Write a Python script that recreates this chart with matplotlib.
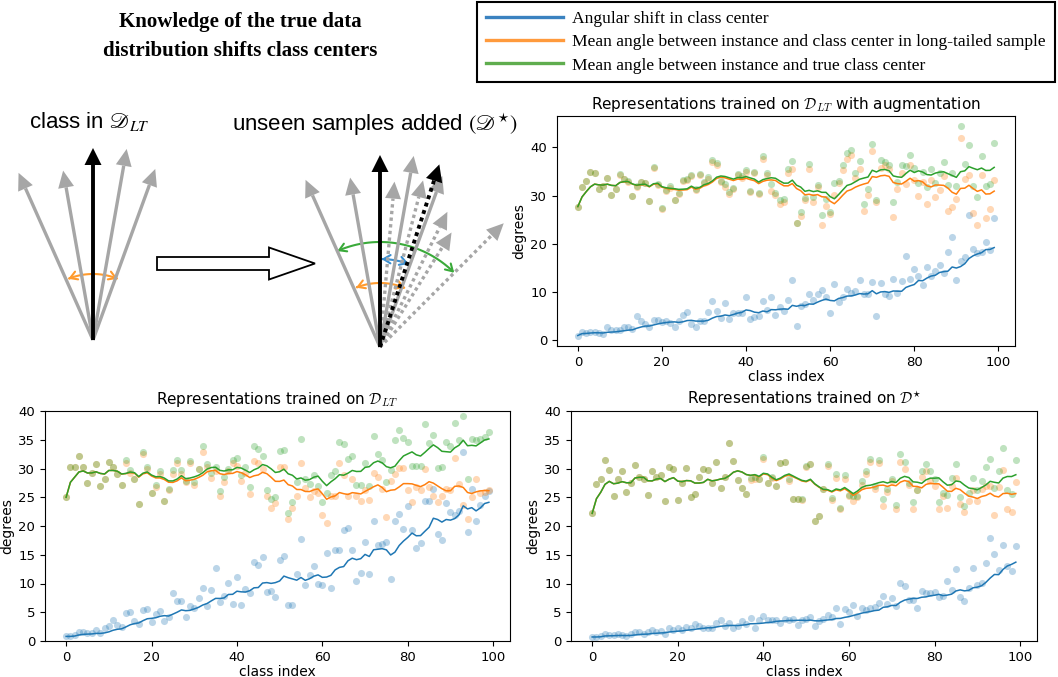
import matplotlib
matplotlib.use("Agg")
import matplotlib.pyplot as plt
import numpy as np
import pandas as pd
from matplotlib.lines import Line2D
from matplotlib.patches import Polygon, FancyArrow, FancyArrowPatch
from matplotlib.path import Path

# ── data (class index 0..99) ─────────────────────────────────────
CLASS_IDX = list(range(100))

AUG_SHIFT = [1.0, 1.8, 1.5, 1.8, 1.8, 1.5, 1.3, 2.7, 2.1, 2.2,
             2.2, 2.8, 2.8, 2.4, 5.1, 4.0, 3.3, 2.8, 4.3, 4.3,
             3.9, 4.1, 3.7, 2.8, 4.0, 5.3, 5.8, 3.3, 2.8, 4.1,
             4.0, 5.8, 8.2, 6.1, 4.7, 7.8, 4.4, 5.7, 5.7, 5.6,
             9.0, 4.5, 4.9, 5.0, 8.2, 6.2, 8.9, 5.3, 7.0, 6.1,
             8.4, 12.5, 3.0, 7.1, 7.6, 9.5, 8.4, 9.6, 10.5, 8.9,
             5.6, 11.6, 8.0, 8.9, 10.7, 9.9, 10.3, 12.5, 9.5, 9.5,
             12.0, 5.1, 11.9, 9.6, 9.1, 12.8, 9.9, 12.3, 17.4, 12.8,
             14.8, 13.4, 11.4, 15.1, 13.3, 14.4, 15.7, 14.0, 18.4, 21.5,
             12.6, 16.4, 17.3, 25.9, 19.0, 18.1, 18.4, 20.4, 18.7, 25.4]
AUG_LT = [27.7, 31.7, 33.0, 34.8, 34.6, 31.4, 31.9, 33.7, 30.1, 31.4,
          34.3, 33.4, 32.9, 29.9, 31.8, 32.8, 32.5, 28.8, 35.6, 32.2,
          27.3, 31.0, 31.6, 29.0, 30.3, 33.1, 33.2, 34.1, 31.2, 34.2,
          32.5, 33.5, 36.9, 36.4, 32.8, 31.8, 30.4, 31.3, 34.2, 33.6,
          34.8, 30.7, 34.6, 30.4, 37.5, 34.2, 31.0, 30.1, 28.2, 28.6,
          34.7, 35.4, 24.4, 25.8, 29.0, 35.4, 28.6, 31.8, 23.8, 27.8,
          26.2, 30.2, 32.5, 35.3, 37.6, 38.4, 33.7, 35.4, 26.7, 30.1,
          39.3, 28.7, 35.6, 36.3, 35.5, 25.6, 31.4, 34.6, 32.3, 36.4,
          33.2, 30.0, 32.9, 28.2, 33.2, 29.6, 31.2, 34.0, 26.7, 27.7,
          29.3, 41.9, 33.4, 34.2, 26.4, 23.8, 34.3, 25.3, 27.2, 33.3]
AUG_TRUE = [27.7, 31.7, 33.0, 34.8, 34.6, 31.4, 31.9, 33.7, 30.1, 31.4,
            34.4, 33.5, 33.0, 29.9, 32.0, 32.9, 32.6, 28.8, 35.9, 32.3,
            27.4, 31.2, 31.9, 29.1, 30.6, 33.3, 33.4, 34.3, 31.3, 34.4,
            32.8, 33.8, 37.3, 36.7, 33.1, 32.3, 30.7, 31.6, 34.5, 34.0,
            35.2, 31.0, 34.8, 30.6, 38.2, 34.6, 32.3, 30.5, 29.0, 29.3,
            35.4, 37.1, 24.4, 26.6, 29.5, 36.6, 29.7, 32.1, 25.9, 29.2,
            26.6, 32.6, 33.0, 36.3, 38.8, 39.4, 34.7, 37.2, 28.3, 31.4,
            40.6, 29.1, 37.4, 37.0, 36.3, 28.6, 32.7, 36.3, 36.1, 38.3,
            35.8, 32.6, 34.9, 31.7, 35.4, 32.6, 34.7, 37.0, 32.2, 34.6,
            31.9, 44.3, 36.6, 40.5, 32.0, 29.6, 38.2, 32.0, 32.4, 40.8]

LT_SHIFT = [0.8, 0.8, 1.0, 1.6, 1.6, 1.4, 1.4, 1.9, 1.4, 2.2,
            2.6, 3.6, 2.7, 2.4, 4.9, 5.1, 3.5, 3.0, 5.4, 5.5,
            3.3, 4.7, 5.2, 3.5, 4.2, 8.4, 6.9, 6.9, 4.1, 6.1,
            5.8, 7.4, 9.3, 6.1, 8.8, 12.7, 6.8, 7.8, 10.1, 6.4,
            11.2, 6.3, 9.0, 8.4, 13.8, 13.2, 14.6, 8.6, 8.7, 7.7,
            14.1, 14.8, 6.2, 6.3, 11.6, 17.8, 9.7, 11.4, 13.1, 10.0,
            9.8, 15.3, 9.2, 15.8, 15.9, 19.3, 19.7, 15.9, 10.5, 11.8,
            17.2, 11.7, 20.9, 16.7, 16.9, 17.2, 10.8, 20.8, 22.1, 19.5,
            23.5, 19.3, 16.2, 17.0, 24.3, 24.3, 26.5, 18.6, 17.6, 24.0,
            22.4, 22.0, 22.6, 32.8, 18.9, 26.5, 20.9, 23.7, 25.3, 26.1]
LT_LT = [25.0, 30.2, 30.3, 32.1, 30.3, 27.4, 29.3, 30.8, 26.9, 28.1,
         31.2, 30.2, 29.0, 27.2, 31.0, 29.3, 28.2, 23.9, 32.6, 29.9,
         25.7, 26.8, 29.0, 24.4, 26.3, 29.0, 31.0, 29.0, 27.6, 30.9,
         27.2, 29.9, 32.9, 30.3, 28.3, 29.5, 25.3, 27.6, 29.5, 31.0,
         30.4, 27.9, 29.3, 25.5, 31.3, 31.0, 29.9, 25.2, 23.2, 24.0,
         30.3, 30.2, 21.3, 23.2, 25.2, 30.9, 26.6, 25.0, 26.1, 25.7,
         21.9, 20.6, 25.2, 25.2, 31.0, 28.9, 25.2, 28.2, 25.2, 24.4,
         26.2, 24.6, 29.3, 28.5, 26.5, 21.6, 27.8, 29.0, 30.1, 30.1,
         26.2, 24.2, 26.7, 26.3, 29.9, 26.8, 25.3, 24.1, 25.3, 26.4,
         26.3, 31.9, 27.3, 23.7, 21.2, 25.0, 28.2, 25.8, 25.9, 26.2]
LT_TRUE = [25.0, 30.2, 30.3, 32.1, 30.3, 27.4, 29.3, 30.8, 26.9, 28.1,
           31.2, 30.2, 29.0, 27.2, 31.4, 29.8, 28.2, 23.9, 32.9, 30.3,
           25.7, 27.2, 29.5, 24.4, 26.5, 29.8, 31.5, 29.7, 27.8, 31.3,
           27.7, 29.9, 34.0, 30.8, 29.2, 30.3, 26.1, 28.5, 29.9, 31.4,
           31.8, 28.8, 30.3, 26.7, 34.0, 33.4, 32.1, 26.3, 24.7, 25.0,
           33.1, 33.3, 22.2, 24.1, 27.6, 35.2, 28.2, 27.3, 28.9, 26.9,
           24.1, 25.7, 28.8, 29.5, 34.6, 34.3, 31.7, 32.1, 27.1, 27.1,
           31.0, 27.0, 35.6, 32.5, 31.5, 27.6, 29.7, 34.9, 36.7, 35.3,
           34.6, 30.5, 30.5, 30.4, 37.8, 34.5, 35.9, 30.1, 30.3, 34.6,
           33.9, 37.9, 35.0, 39.2, 28.2, 35.2, 34.9, 35.2, 35.5, 36.4]

FULL_SHIFT = [0.7, 0.7, 0.8, 1.3, 1.0, 1.0, 1.2, 1.0, 0.8, 1.2,
              1.5, 1.6, 1.2, 1.5, 2.0, 1.5, 1.7, 1.3, 2.2, 1.9,
              2.2, 2.0, 2.4, 2.2, 2.9, 2.6, 2.3, 2.3, 2.2, 3.2,
              3.6, 2.6, 3.2, 2.2, 2.6, 3.4, 3.0, 4.0, 2.3, 3.6,
              4.3, 3.6, 3.7, 3.7, 3.1, 3.8, 3.6, 3.9, 2.7, 3.7,
              3.9, 4.2, 2.6, 3.5, 3.9, 4.6, 4.2, 5.8, 2.9, 5.5,
              5.1, 6.3, 4.4, 5.8, 5.4, 5.8, 5.9, 6.6, 7.8, 6.4,
              7.5, 6.1, 10.1, 9.5, 7.1, 7.1, 5.8, 8.7, 8.4, 8.3,
              8.5, 7.7, 7.8, 10.4, 8.8, 12.6, 7.7, 7.0, 9.3, 12.7,
              9.7, 10.1, 13.6, 17.9, 15.1, 12.3, 16.7, 13.0, 12.2, 16.5]
FULL_LT = [22.2, 27.3, 28.1, 31.4, 29.8, 25.3, 28.1, 29.5, 26.0, 27.4,
           30.6, 28.5, 28.1, 25.4, 29.5, 28.6, 28.9, 24.3, 30.2, 30.0,
           24.6, 27.4, 30.1, 25.0, 25.6, 28.6, 30.0, 29.7, 27.5, 31.2,
           26.6, 28.6, 34.4, 31.3, 28.0, 26.6, 25.6, 28.0, 28.1, 28.2,
           31.7, 27.4, 28.3, 27.0, 31.0, 31.2, 27.8, 24.7, 24.7, 24.5,
           30.3, 30.8, 20.8, 21.7, 26.5, 30.5, 24.6, 28.4, 23.0, 28.2,
           25.2, 24.4, 25.0, 27.2, 29.0, 31.2, 26.5, 30.9, 23.5, 25.9,
           27.8, 23.0, 31.2, 30.0, 27.2, 23.0, 26.2, 28.5, 29.5, 27.9,
           26.9, 23.0, 25.2, 23.1, 26.9, 28.4, 23.8, 22.4, 24.3, 26.3,
           24.4, 26.5, 27.0, 27.0, 22.0, 26.8, 29.7, 23.0, 22.4, 27.6]
FULL_TRUE = [22.2, 27.3, 28.1, 31.4, 29.8, 25.3, 28.1, 29.5, 26.0, 27.4,
             30.6, 28.5, 28.1, 25.4, 29.5, 28.6, 28.9, 24.3, 30.2, 30.0,
             24.6, 27.4, 30.1, 25.0, 25.6, 28.6, 30.0, 29.7, 27.5, 31.2,
             26.6, 28.6, 34.4, 31.3, 28.0, 26.6, 25.6, 28.4, 28.6, 28.2,
             32.0, 27.4, 28.6, 27.0, 31.0, 31.2, 28.1, 24.7, 24.7, 24.7,
             30.5, 30.8, 20.8, 21.7, 26.5, 30.8, 24.9, 29.0, 23.1, 28.8,
             25.4, 25.3, 25.3, 27.9, 29.5, 31.7, 27.0, 31.4, 24.7, 26.5,
             28.1, 23.6, 32.6, 31.2, 27.5, 24.2, 26.3, 29.5, 30.7, 29.5,
             28.1, 24.1, 25.7, 25.4, 28.3, 30.7, 25.1, 23.5, 25.7, 28.3,
             26.3, 27.9, 30.2, 31.7, 26.6, 29.5, 33.6, 26.3, 25.6, 31.5]

PANELS = [
    (r"Representations trained on $\mathcal{D}_{LT}$ with augmentation", AUG_SHIFT, AUG_LT, AUG_TRUE, None),
    (r"Representations trained on $\mathcal{D}_{LT}$", LT_SHIFT, LT_LT, LT_TRUE, (0, 40)),
    (r"Representations trained on $\mathcal{D}^{\star}$", FULL_SHIFT, FULL_LT, FULL_TRUE, (0, 40)),
]
LEGEND_LABELS = ["Angular shift in class center",
                 "Mean angle between instance and class center in long-tailed sample",
                 "Mean angle between instance and true class center"]
COLORS = ["tab:blue", "tab:orange", "tab:green"]
LEGEND_COLORS = ["#3a82c0", "#ff9a3c", "#5fad4e"]

# diagram: arrow angles (deg from vertical) and lengths (px)
SOLID_ANGLES = [-24, -10, 10, 20]
SOLID_LENGTHS = [183, 172, 194, 182]
DOTTED_ANGLES = [5, 14.5, 26.5, 32, 45]
DOTTED_LENGTHS = [166, 172, 151, 135, 175]
CENTER_SHIFT_ANGLE = 18
W, H = 1058, 677

fig = plt.figure(figsize=(W / 100, H / 100), dpi=100)

# ── illustration overlay in pixel coordinates ─────────────────
dg = fig.add_axes([0, 0, 1, 1])
dg.set_xlim(0, W)
dg.set_ylim(H, 0)
dg.axis("off")


def fan_arrow(origin, angle, length, color, ls="-", lw=2.4, hw=16, hl=17):
    th = np.deg2rad(angle)
    u = np.array([np.sin(th), -np.cos(th)])
    n = np.array([np.cos(th), np.sin(th)])
    o = np.array(origin, dtype=float)
    tip = o + length * u
    base = tip - hl * u
    dg.plot([o[0], base[0]], [o[1], base[1]], color=color, lw=lw, ls=ls,
            solid_capstyle="butt", dash_capstyle="butt")
    dg.add_patch(Polygon([tip, base + hw / 2 * n, base - hw / 2 * n],
                         closed=True, color=color, lw=0))


def arc_arrow(origin, r, a0, a1, color):
    th = np.deg2rad(np.linspace(a0, a1, 60))
    pts = np.column_stack([origin[0] + r * np.sin(th), origin[1] - r * np.cos(th)])
    dg.add_patch(FancyArrowPatch(path=Path(pts), arrowstyle="<->,head_length=5,head_width=3",
                                 color=color, lw=1.5, mutation_scale=1))


GRAY = "#a6a6a6"
o1 = (93, 340)
for a, L in zip(SOLID_ANGLES, SOLID_LENGTHS):
    fan_arrow(o1, a, L, GRAY)
fan_arrow(o1, 0, 192, "black", lw=2.8, hw=17)
arc_arrow(o1, 66, -22, 22, "#ff9b2e")

o2 = (380, 347)
for a, L in zip(SOLID_ANGLES, SOLID_LENGTHS):
    fan_arrow(o2, a, L, GRAY)
for a, L in zip(DOTTED_ANGLES, DOTTED_LENGTHS):
    fan_arrow(o2, a, L, GRAY, ls=(0, (1, 1)))
fan_arrow(o2, 0, 192, "black", lw=2.8, hw=17)
fan_arrow(o2, CENTER_SHIFT_ANGLE, 192, "black", ls=(0, (1, 1)), lw=2.8, hw=17)
arc_arrow(o2, 105, -24, 45, "#3aaa3a")
arc_arrow(o2, 88, 1, 19, "#3b8fd0")
arc_arrow(o2, 64, -22, 23, "#ff9b2e")

dg.add_patch(FancyArrow(157, 263.5, 158, 0, width=13, head_width=32, head_length=46,
                        length_includes_head=True, fc="white", ec="black", lw=1.3))

dg.text(29, 128, r"class in $\mathscr{D}_{LT}$", fontsize=16, family="Liberation Sans",
        math_fontfamily="stix", va="baseline", ha="left")
dg.text(232, 131, r"unseen samples added $(\mathscr{D}^{\star})$", fontsize=16,
        family="Liberation Sans", math_fontfamily="stix", va="baseline", ha="left")
fig.text(240 / W, 1 - 37 / H, "Knowledge of the true data\ndistribution shifts class centers",
         ha="center", va="center", fontsize=15, fontweight="bold",
         family="Liberation Serif", linespacing=1.6)

# ── the three panels ───────────────────────────────────────────
rects = [[557 / W, 1 - 346 / H, 458 / W, 230 / H],
         [45 / W, 1 - 641 / H, 465 / W, 230 / H],
         [571 / W, 1 - 641 / H, 466 / W, 230 / H]]

for rect, (title, shift, lt, true, ylim) in zip(rects, PANELS):
    ax = fig.add_axes(rect)
    for vals, c in zip([shift, lt, true], COLORS):
        ax.scatter(CLASS_IDX, vals, s=26, color=c, alpha=0.3, lw=0)
    for vals, c in zip([shift, lt, true], COLORS):
        smooth = pd.Series(vals).rolling(10, min_periods=1).mean()
        ax.plot(CLASS_IDX, smooth, color=c, lw=1.1)
    if ylim:
        ax.set_ylim(*ylim)
    ax.set_title(title, fontsize=11, math_fontfamily="cm", pad=5)
    ax.set_xlabel("class index", fontsize=10, labelpad=1)
    ax.set_ylabel("degrees", fontsize=10, labelpad=3)
    ax.tick_params(labelsize=9.5)

handles = [Line2D([], [], color=c, lw=2.4) for c in LEGEND_COLORS]
leg = fig.legend(handles, LEGEND_LABELS, loc="upper left",
                 bbox_to_anchor=(477 / W, 1 - 2 / H), bbox_transform=fig.transFigure,
                 borderaxespad=0, prop={"family": "Liberation Serif", "size": 12.6},
                 handlelength=4.4, handletextpad=0.55, labelspacing=0.4, borderpad=0.5,
                 fancybox=False, edgecolor="black", framealpha=1)
leg.get_frame().set_linewidth(1.5)

fig.savefig("out.png", dpi=100)
